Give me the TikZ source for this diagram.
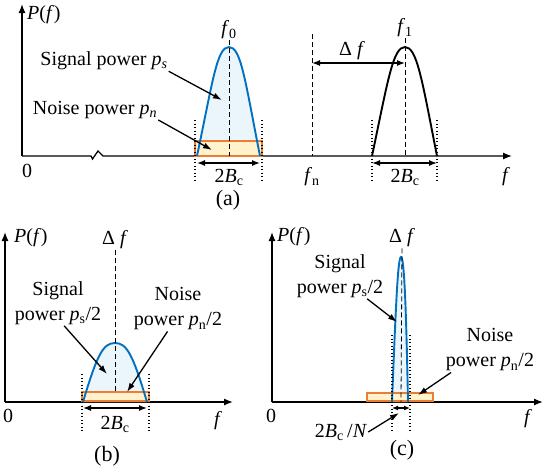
\documentclass[tikz,border=0pt]{standalone}
\usepackage{fontspec}
\setmainfont{Liberation Serif}
\usetikzlibrary{arrows.meta, positioning, calc}
\definecolor{sigblue}{RGB}{0,112,192}
\definecolor{sigfill}{RGB}{234,245,252}
\definecolor{noiseorange}{RGB}{237,125,49}
\definecolor{noisefill}{RGB}{255,242,204}
\newcommand{\ital}[1]{\textit{#1}}
\newcommand{\twoBc}{2\ital{B}\textsubscript{c}}

\tikzset{
  axisline/.style={line width=1.3pt, -{Latex[length=9pt,width=7pt]}},
  lbl/.style={font=\fontsize{20}{25}\selectfont, inner sep=1pt, align=center},
  panellabel/.style={font=\fontsize{22}{24}\selectfont},
  pointer/.style={line width=1.3pt, -{Latex[length=9pt,width=6pt]}},
  bandarrow/.style={line width=1.3pt, {Latex[length=8pt,width=6pt]}-{Latex[length=8pt,width=6pt]}},
  centre/.style={line width=0.8pt, dash pattern=on 5pt off 3pt},
  bandedge/.style={line width=1.2pt, dash pattern=on 1.3pt off 2.2pt},
  sigline/.style={draw=sigblue, line width=1.9pt},
  noisebox/.style={draw=noiseorange, line width=1.9pt, fill=noisefill},
}

\begin{document}
\begin{tikzpicture}[x=1pt, y=-1pt]
    \useasboundingbox (0,0) rectangle (552,474);

    % ---------- (a) ----------
    % Axes with break
    \draw[axisline] (22,156) -- (22,4);
    \draw[axisline] (22,156) -- (91,156) -- (92.5,159) -- (98,151) -- (103,156) -- (512,156);
    \node[lbl, anchor=west] (pfa) at (26,15) {\ital{P}(\ital{f})};
    \node[lbl] (za) at (27,171) {0};
    \node[lbl] (fa) at (506,177) {\ital{f}};

    % Signal band at f0
    \fill[sigfill] (197,156) .. controls (213,80) and (217,47) .. (229,47)
                   .. controls (241,47) and (245,80) .. (260,156) -- cycle;
    \draw[noisebox] (195,141) rectangle (262,156);
    \draw[sigline] (197,156) .. controls (213,80) and (217,47) .. (229,47)
                   .. controls (241,47) and (245,80) .. (260,156);
    \node[lbl] (f0) at (229,30) {\ital{f}\textsubscript{0}};
    \coordinate (f0base) at (229,156);
    \draw[centre] (f0.south) -- (f0base);
    \draw[bandedge] (195,120) -- (195,182);
    \draw[bandedge] (262,120) -- (262,182);
    \coordinate (bwal) at (197,163);
    \coordinate (bwar) at (260,163);
    \draw[bandarrow] (bwal) -- (bwar);
    \node[lbl] (bwa) at (229,177) {\twoBc};
    \node[panellabel] (capa) at (228,200) {(a)};

    % Labels with pointers
    \node[lbl] (siga) at (104,61) {Signal power \ital{p}\textsubscript{\ital{s}}};
    \coordinate (sigatip) at (222,100);
    \draw[pointer] (siga.south east) -- (sigatip);
    \node[lbl] (noia) at (95,110) {Noise power \ital{p}\textsubscript{\ital{n}}};
    \coordinate (noiatip) at (212,150);
    \draw[pointer] (noia.south east) -- (noiatip);

    % Neighbour channel f1
    \node[lbl] (f1) at (405,28) {\ital{f}\textsubscript{1}};
    \coordinate (f1base) at (405,156);
    \draw[centre] (f1.south) -- (f1base);
    \draw[line width=1.9pt] (372,156) .. controls (388,80) and (393,47) .. (405,47)
                   .. controls (417,47) and (422,80) .. (437,156);
    \coordinate (fntop) at (312,34);
    \coordinate (fnbase) at (312,156);
    \draw[centre] (fntop) -- (fnbase);
    \node[lbl] (fn) at (312,177) {\ital{f}\textsubscript{n}};
    \coordinate (dfl) at (312,63);
    \coordinate (dfr) at (405,63);
    \draw[bandarrow] (dfl) -- (dfr);
    \node[lbl] (dfa) at (352,51) {Δ \ital{f}};
    \draw[bandedge] (372,120) -- (372,182);
    \draw[bandedge] (437,120) -- (437,182);
    \coordinate (bwbl) at (372,163);
    \coordinate (bwbr) at (437,163);
    \draw[bandarrow] (bwbl) -- (bwbr);
    \node[lbl] (bwa1) at (405,177) {\twoBc};

    % ---------- (b) ----------
    \draw[axisline] (5,402) -- (5,232);
    \draw[axisline] (5,402) -- (233,402);
    \node[lbl, anchor=west] (pfb) at (13,238) {\ital{P}(\ital{f})};
    \node[lbl] (zb) at (8,416) {0};
    \node[lbl] (fb) at (218,421) {\ital{f}};

    \fill[sigfill] (83,402) .. controls (97,355) and (103,343) .. (115,343)
                   .. controls (127,343) and (133,355) .. (147,402) -- cycle;
    \draw[noisebox] (82,392) rectangle (149,401);
    \draw[sigline] (83,402) .. controls (97,355) and (103,343) .. (115,343)
                   .. controls (127,343) and (133,355) .. (147,402);
    \node[lbl] (dfb) at (115,240) {Δ \ital{f}};
    \coordinate (dfbbase) at (115,392);
    \draw[centre] (dfb.south) -- (dfbbase);
    \draw[bandedge] (82,374) -- (82,432);
    \draw[bandedge] (149,374) -- (149,432);
    \coordinate (bwcl) at (83,408);
    \coordinate (bwcr) at (147,408);
    \draw[bandarrow] (bwcl) -- (bwcr);
    \node[lbl] (bwb) at (115,424) {\twoBc};
    \node[panellabel] (capb) at (107,456) {(b)};

    \node[lbl] (sigb) at (58,303) {Signal\\power \ital{p}\textsubscript{s}/2};
    \coordinate (sigbtip) at (107,374);
    \draw[pointer] (sigb.-75) -- (sigbtip);
    \node[lbl] (noib) at (178,309) {Noise\\power \ital{p}\textsubscript{n}/2};
    \coordinate (noibtip) at (127,392);
    \draw[pointer] (noib.-115) -- (noibtip);

    % ---------- (c) ----------
    \draw[axisline] (272,402) -- (272,232);
    \draw[axisline] (272,402) -- (543,402);
    \node[lbl, anchor=west] (pfc) at (276,237) {\ital{P}(\ital{f})};
    \node[lbl] (zc) at (271,416) {0};
    \node[lbl] (fc) at (528,419) {\ital{f}};

    \fill[sigfill] (392,402) .. controls (396,300) and (398,257) .. (401,257)
                   .. controls (404,257) and (406,300) .. (408,402) -- cycle;
    \draw[noisebox] (367,393) rectangle (433,401);
    \draw[sigline] (392,402) .. controls (396,300) and (398,257) .. (401,257)
                   .. controls (404,257) and (406,300) .. (408,402);
    \node[lbl] (dfc) at (402,238) {Δ \ital{f}};
    \coordinate (dfcbase) at (401,402);
    \draw[centre] (dfc.south) -- (dfcbase);
    \draw[bandedge] (392,335) -- (392,432);
    \draw[bandedge] (410,335) -- (410,432);
    \coordinate (bwdl) at (392,408);
    \coordinate (bwdr) at (410,408);
    \draw[line width=1.2pt, {Latex[length=6pt,width=5pt]}-{Latex[length=6pt,width=5pt]}] (bwdl) -- (bwdr);
    \node[lbl] (bwc) at (341,432) {\twoBc\,/\ital{N}};
    \coordinate (bwctip) at (399,413);
    \draw[pointer] (bwc.east) -- (bwctip);
    \node[panellabel] (capc) at (402,450) {(c)};

    \node[lbl] (sigc) at (340,276) {Signal\\power \ital{p}\textsubscript{s}/2};
    \coordinate (sigctip) at (397,322);
    \draw[pointer] (sigc.-40) -- (sigctip);
    \node[lbl] (noic) at (490,350) {Noise\\power \ital{p}\textsubscript{n}/2};
    \coordinate (noictip) at (418,395);
    \draw[pointer] (noic.-150) -- (noictip);
\end{tikzpicture}
\end{document}
